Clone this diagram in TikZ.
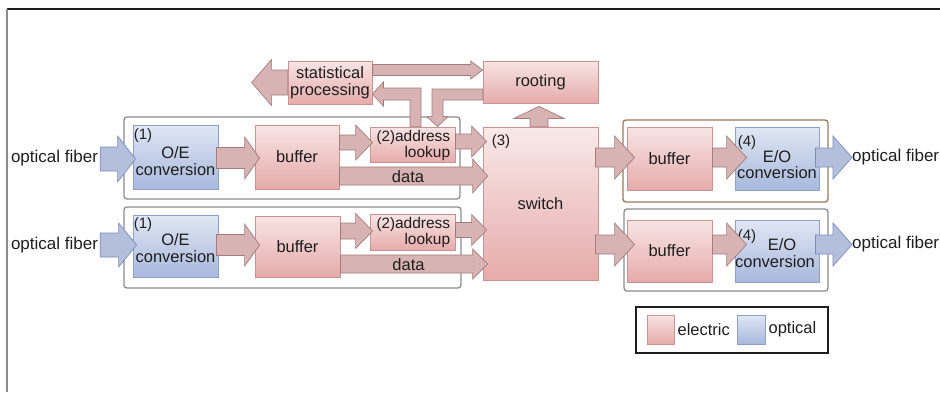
\documentclass[tikz,border=0pt]{standalone}
\usepackage{fontspec}
\setmainfont{Liberation Sans}
\usetikzlibrary{calc,shadows}

\definecolor{elTop}{HTML}{F8E4E4}
\definecolor{elBot}{HTML}{E6ABAB}
\definecolor{elLine}{HTML}{C99393}
\definecolor{opTop}{HTML}{E0E7F4}
\definecolor{opBot}{HTML}{A8B8DC}
\definecolor{opLine}{HTML}{8DA1CB}
\definecolor{arEl}{HTML}{D8B3B3}
\definecolor{arElLine}{HTML}{A47B7B}
\definecolor{arOp}{HTML}{B3BFDC}
\definecolor{arOpLine}{HTML}{7C8DB8}
\definecolor{grpLine}{HTML}{8C8C8C}
\definecolor{grpBrown}{HTML}{9A7A5C}
\definecolor{ink}{HTML}{1E1E1E}

\tikzset{
  x=1pt, y=-1pt,
  boxshadow/.style={general shadow={fill=black, opacity=0.18, shadow xshift=1.2pt, shadow yshift=-1.2pt}},
  ebox/.style={draw=elLine, line width=0.8pt, top color=elTop, bottom color=elBot,
    inner sep=0pt, text=ink, align=center, font=\fontsize{16.5}{16.5}\selectfont, boxshadow},
  obox/.style={draw=opLine, line width=0.8pt, top color=opTop, bottom color=opBot,
    inner sep=0pt, text=ink, align=center, font=\fontsize{16.5}{16.5}\selectfont, boxshadow},
  grp/.style={draw=grpLine, line width=1.3pt, rounded corners=3pt},
  elarrow/.style={fill=arEl, draw=arElLine, line width=0.7pt, line join=miter},
  oparrow/.style={fill=arOp, draw=arOpLine, line width=0.7pt, line join=miter},
  lbl/.style={font=\fontsize{16.5}{16.5}\selectfont, text=ink, inner sep=0pt, align=center},
  fiber/.style={font=\fontsize{17}{17}\selectfont, text=ink, inner sep=0pt},
  tagtxt/.style={font=\fontsize{15}{15}\selectfont, text=ink, inner sep=0pt, anchor=north west},
}
\newcommand\tagfont{\fontsize{15}{15}\selectfont}

% horizontal block arrow: [style]{tail}{tip}{shaft half width}{head half width}{head length}
\newcommand\hfat[6][elarrow]{%
  \draw[#1] let \p1=(#2), \p2=(#3), \n1={ifthenelse(\x2>\x1,1,-1)*(#6)} in
    (\x1,{\y1+(#4)*1pt}) -- ({\x2-\n1*1pt},{\y1+(#4)*1pt}) -- ({\x2-\n1*1pt},{\y1+(#5)*1pt})
    -- (\x2,\y1) -- ({\x2-\n1*1pt},{\y1-(#5)*1pt}) -- ({\x2-\n1*1pt},{\y1-(#4)*1pt})
    -- (\x1,{\y1-(#4)*1pt}) -- cycle;}
% vertical block arrow, same arguments
\newcommand\vfat[6][elarrow]{%
  \draw[#1] let \p1=(#2), \p2=(#3), \n1={ifthenelse(\y2>\y1,1,-1)*(#6)} in
    ({\x1+(#4)*1pt},\y1) -- ({\x1+(#4)*1pt},{\y2-\n1*1pt}) -- ({\x1+(#5)*1pt},{\y2-\n1*1pt})
    -- (\x1,\y2) -- ({\x1-(#5)*1pt},{\y2-\n1*1pt}) -- ({\x1-(#4)*1pt},{\y2-\n1*1pt})
    -- ({\x1-(#4)*1pt},\y1) -- cycle;}

\begin{document}
\begin{tikzpicture}
\useasboundingbox (0,0) rectangle (940,392);

% frame
\draw[line width=1.6pt, color=ink] (7,9) -- (940,9);
\draw[line width=2pt, color=grpLine] (7,9) -- (7,392);

% port groups
\draw[grp] (124,117) rectangle (460,199);
\draw[grp] (124,207) rectangle (461,288);
\draw[grp, draw=grpBrown] (623,120) rectangle (828,202);
\draw[grp] (624,209) rectangle (828,291);

% central blocks
\node[ebox, minimum width=84pt, minimum height=43pt] (stat) at (330,82.5) {statistical\\processing};
\node[ebox, minimum width=115pt, minimum height=42pt] (root) at (540.5,82) {rooting};
\node[ebox, minimum width=115pt, minimum height=153pt, top color=elTop!80!white] (sw) at (540.5,203.5) {switch};
\node[tagtxt] at ($(sw.north west)+(9,8)$) {(3)};

% input line 1
\node[fiber] (fibL1) at (54.5,158) {optical fiber};
\node[obox, minimum width=85pt, minimum height=64pt] (oe1) at (175.5,157) {};
\node[lbl] at ($(oe1.center)+(0,4)$) {O/E\\conversion};
\node[tagtxt] at ($(oe1.north west)+(1,4)$) {(1)};
\node[ebox, minimum width=84pt, minimum height=64pt] (buf1) at (297,157) {buffer};
\node[ebox, minimum width=85pt, minimum height=35pt] (adr1) at (412.5,144.5) {};
\node[lbl, align=right, anchor=east, font=\fontsize{15.5}{16}\selectfont] at ($(adr1.east)+(-5,0.5)$) {{\tagfont(2)}address\\lookup};

% input line 2
\node[fiber] (fibL2) at (54.5,245) {optical fiber};
\node[obox, minimum width=85pt, minimum height=62pt] (oe2) at (175.5,246) {};
\node[lbl] at ($(oe2.center)+(0,2)$) {O/E\\conversion};
\node[tagtxt] at ($(oe2.north west)+(1,3)$) {(1)};
\node[ebox, minimum width=85pt, minimum height=61pt] (buf2) at (297.5,246.5) {buffer};
\node[ebox, minimum width=85pt, minimum height=36pt] (adr2) at (412.5,232) {};
\node[lbl, align=right, anchor=east, font=\fontsize{15.5}{16}\selectfont] at ($(adr2.east)+(-5,0)$) {{\tagfont(2)}address\\lookup};

% output line 1
\node[ebox, minimum width=85pt, minimum height=63pt] (rbuf1) at (669.5,158.5) {buffer};
\node[obox, minimum width=84pt, minimum height=63pt] (eo1) at (777,158.5) {};
\node[lbl] at ($(eo1.center)+(0,6)$) {E/O\\conversion};
\node[tagtxt] at ($(eo1.north west)+(3,9)$) {(4)};
\node[fiber, anchor=west] (fibR1) at (852,157) {optical fiber};

% output line 2
\node[ebox, minimum width=85pt, minimum height=62pt] (rbuf2) at (669.5,251) {buffer};
\node[obox, minimum width=84pt, minimum height=62pt] (eo2) at (777,251) {};
\node[lbl] at ($(eo2.center)+(-2,2)$) {\hspace*{14pt}E/O\\conversion};
\node[tagtxt] at ($(eo2.north west)+(3,10)$) {(4)};
\node[fiber, anchor=west] (fibR2) at (852,244) {optical fiber};

% legend
\draw[line width=1.2pt, color=ink] (636,307) rectangle (828,353);
\node[ebox, minimum width=27pt, minimum height=29pt] (keyEl) at (660.5,329.5) {};
\node[obox, minimum width=28pt, minimum height=29pt] (keyOp) at (751,329.5) {};
\node[lbl, anchor=west] at ($(keyEl.east)+(3,0)$) {electric};
\node[lbl, anchor=west] at ($(keyOp.east)+(3,0)$) {optical};

% ---- arrows, line 1
\hfat[oparrow]{$(fibL1.east)+(2,1)$}{$(oe1.west|-fibL1.east)+(3,1)$}{12}{23}{18}
\hfat{$(oe1.east)+(-2,1)$}{$(buf1.west)+(5,1)$}{10.5}{21}{15}
\hfat{$(buf1.east|-adr1.west)+(0,-2)$}{$(adr1.west)+(3,-2)$}{7.5}{17.5}{17}
\hfat{$(adr1.east)+(0,-3)$}{$(sw.west|-adr1.east)+(4,-3)$}{7.5}{15.5}{15}
\hfat{$(buf1.east)+(0,19)$}{$(sw.west|-buf1.east)+(5,19)$}{9}{17}{15}
\node[lbl] at ($(buf1.east)!0.5!(sw.west|-buf1.east)+(-3,20)$) {data};

% ---- arrows, line 2
\hfat[oparrow]{$(fibL2.east)+(2,0)$}{$(oe2.west|-fibL2.east)+(4,0)$}{12}{22}{18}
\hfat{$(oe2.east)+(-2,-1)$}{$(buf2.west)+(5,-1)$}{10.5}{21}{15}
\hfat{$(buf2.east|-adr2.west)+(0,-1)$}{$(adr2.west)+(3,-1)$}{8}{17.5}{17}
\hfat{$(adr2.east)+(0,-2)$}{$(sw.west|-adr2.east)+(4,-2)$}{7.5}{15.5}{15}
\hfat{$(buf2.east)+(0,17.5)$}{$(sw.west|-buf2.east)+(5,17.5)$}{9}{15}{15}
\node[lbl] at ($(buf2.east)!0.5!(sw.west|-buf2.east)+(-3,18.5)$) {data};

% ---- output arrows
\hfat{$(sw.east|-rbuf1.west)+(-3,-1)$}{$(rbuf1.west)+(8,-1)$}{9.5}{21.5}{20}
\hfat{$(rbuf1.east)+(0,-1)$}{$(eo1.west)+(12,-1)$}{9.5}{21.5}{20}
\hfat[oparrow]{$(eo1.east)+(-4,-1)$}{$(fibR1.west|-eo1.east)+(0,-1)$}{9.5}{21.5}{19}
\hfat{$(sw.east|-rbuf2.west)+(-3,-6.5)$}{$(rbuf2.west)+(8,-6.5)$}{9.5}{21.5}{20}
\hfat{$(rbuf2.east)+(0,-6.5)$}{$(eo2.west)+(12,-6.5)$}{9.5}{21.5}{20}
\hfat[oparrow]{$(eo2.east)+(-4,-6.5)$}{$(fibR2.west|-eo2.east)+(0,-6.5)$}{9.5}{21.5}{19}

% ---- control arrows
\coordinate (statOut) at ($(stat.west)+(-36,0)$);
\hfat{stat.west}{statOut}{12.5}{23}{20}
\hfat{$(stat.east)+(0,-12.5)$}{$(root.west|-stat.east)+(0,-12.5)$}{5.5}{9}{12}
\vfat{$(sw.north)+(-1.5,0)$}{$(root.south)+(-1.5,3)$}{9}{25}{12}

% address lookup -> statistical processing
\coordinate (sEl) at ($(stat.east)+(0,11.5)$);
\coordinate (aEl) at ($(adr1.north)+(3,0)$);
\draw[elarrow] ($(aEl)+(5.5,0)$) -- ($(aEl|-sEl)+(5.5,-6)$) -- ($(sEl)+(11,-6)$)
  -- ($(sEl)+(11,-12)$) -- (sEl) -- ($(sEl)+(11,12)$) -- ($(sEl)+(11,6)$)
  -- ($(aEl|-sEl)+(-5.5,6)$) -- ($(aEl)+(-5.5,0)$) -- cycle;

% rooting -> address lookup
\coordinate (rEl) at ($(root.west)+(0,12.5)$);
\coordinate (dEl) at ($(adr1.north)+(25,0)$);
\draw[elarrow] ($(rEl)+(0,-5.5)$) -- ($(dEl|-rEl)+(-5.5,-5.5)$) -- ($(dEl)+(-5.5,-10)$)
  -- ($(dEl)+(-10.5,-10)$) -- (dEl) -- ($(dEl)+(10.5,-10)$) -- ($(dEl)+(5.5,-10)$)
  -- ($(dEl|-rEl)+(5.5,5.5)$) -- ($(rEl)+(0,5.5)$) -- cycle;
\end{tikzpicture}
\end{document}
